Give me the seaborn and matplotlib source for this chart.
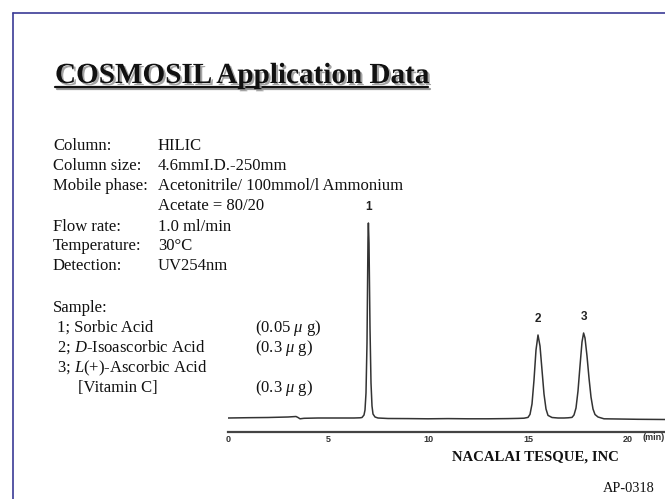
import numpy as np
import pandas as pd
import matplotlib
matplotlib.use("Agg")
import matplotlib.pyplot as plt
import matplotlib.patheffects as pe
from matplotlib.lines import Line2D
import seaborn as sns

# =========================
# DATA
# =========================

time_min = [0, 1, 2, 3, 3.4, 3.5, 3.6, 3.8, 4.5, 5.5, 6.3, 6.6,
            6.7, 6.8, 6.85, 6.9, 6.95, 7.0, 7.02, 7.05, 7.1, 7.15, 7.2, 7.25, 7.35, 7.5,
            8, 9, 10, 11, 12, 13, 14, 14.5, 14.8,
            15.0, 15.1, 15.2, 15.3, 15.4, 15.5, 15.6, 15.7, 15.8, 15.9, 16.0, 16.2,
            16.5, 16.8, 17.0, 17.2,
            17.3, 17.4, 17.5, 17.6, 17.7, 17.78, 17.85, 17.95, 18.05, 18.15, 18.25, 18.35, 18.5,
            18.8, 19.5, 20.5, 21.85]
signal = [0, 0.3, 0.5, 1, 1.5, 0.5, -0.8, -0.3, 0, 0, 0, 0.2,
          0.5, 3, 8, 25, 75, 180, 195, 175, 90, 35, 12, 4, 1, 0,
          -0.5, -0.6, -0.8, -0.6, -0.8, -0.8, -0.6, -0.4, -0.2,
          0.6, 3.6, 14, 38, 68, 83, 72, 48, 24, 9, 2.6, 0.5,
          0, 0, 0.2, 0.6,
          3, 10, 27, 52, 76, 85, 80, 62, 40, 21, 9, 3.5, 1,
          -0.8, -1, -1.3, -1.5]

peak_labels = ["1", "2", "3"]
peak_times = [7.02, 15.5, 17.78]
peak_heights = [195, 83, 85]

x_ticks = [0, 5, 10, 15, 20]

info_keys = ["Column:", "Column size:", "Mobile phase:", "", "Flow rate:", "Temperature:", "Detection:"]
info_vals = ["HILIC", "4.6mmI.D.-250mm", "Acetonitrile/ 100mmol/l Ammonium", "Acetate = 80/20",
             "1.0 ml/min", "30\u00b0C", "UV254nm"]

sample_lines = ["1; Sorbic Acid", r"2; $\it{D}$-Isoascorbic Acid", r"3; $\it{L}$(+)-Ascorbic Acid", "[Vitamin C]"]
sample_amounts = [r"(0.05 $\mu$ g)", r"(0.3 $\mu$ g)", "", r"(0.3 $\mu$ g)"]

df = pd.DataFrame({"time": time_min, "signal": signal})

# =========================
# STYLE
# =========================

sns.set_style("white")
plt.rcParams["font.family"] = ["Liberation Serif", "DejaVu Serif"]
plt.rcParams["mathtext.fontset"] = "custom"
plt.rcParams["mathtext.rm"] = "Liberation Serif"
plt.rcParams["mathtext.it"] = "Liberation Serif:italic"
plt.rcParams["mathtext.bf"] = "Liberation Serif:bold"

W, H = 665, 499
fig = plt.figure(figsize=(W / 100, H / 100), dpi=100)


def fx(px):
    return px / W


def fy(py):
    return 1 - py / H


# slide border
border = "#3b3b96"
fig.add_artist(Line2D([fx(12.5), fx(12.5)], [fy(13), 0], color=border, lw=1.2))
fig.add_artist(Line2D([fx(12.5), 1], [fy(13), fy(13)], color=border, lw=1.2))

# =========================
# TITLE
# =========================

title = fig.text(fx(55), fy(83), "COSMOSIL Application Data", fontsize=21,
                 fontweight="bold", color="#111111", va="baseline",
                 path_effects=[pe.SimplePatchShadow(offset=(1.5, -1.5), shadow_rgbFace="#9a9a9a", alpha=0.9),
                               pe.Normal()])
fig.canvas.draw()
bb = title.get_window_extent()
fig.add_artist(Line2D([fx(bb.x0 + 1.5), fx(bb.x1 + 1.5)], [fy(88.5), fy(88.5)], color="#9a9a9a", lw=1.6))
fig.add_artist(Line2D([fx(bb.x0), fx(bb.x1)], [fy(87), fy(87)], color="#111111", lw=1.6))

# =========================
# CONDITIONS TEXT
# =========================

row_y = [150.5, 170.5, 190.5, 210.5, 230.5, 250.5, 270.5]
for key, val, y in zip(info_keys, info_vals, row_y):
    fig.text(fx(53), fy(y), key, fontsize=12, va="baseline", color="#111111")
    fig.text(fx(158), fy(y), val, fontsize=12, va="baseline", color="#111111")

fig.text(fx(53), fy(312), "Sample:", fontsize=12, va="baseline", color="#111111")
sample_x = [57, 57, 57, 78]
sample_y = [332, 352, 372, 392]
for line, amt, x, y in zip(sample_lines, sample_amounts, sample_x, sample_y):
    fig.text(fx(x), fy(y), line, fontsize=12, va="baseline", color="#111111")
    if amt:
        fig.text(fx(255), fy(y), amt, fontsize=12, va="baseline", color="#111111")

# =========================
# CHROMATOGRAM
# =========================

ax_left, ax_bottom, ax_top = 228, 432, 200
ax = fig.add_axes([fx(ax_left), fy(ax_bottom), 1 - fx(ax_left), (ax_bottom - ax_top) / H])
ax.patch.set_alpha(0)

sns.lineplot(data=df, x="time", y="signal", ax=ax, color="#333333", linewidth=1.1)

ax.set_xlim(0, (W - ax_left) / 20)
ax.set_ylim(-14, (ax_bottom - ax_top) - 14)

for lab, t, h in zip(peak_labels, peak_times, peak_heights):
    ax.text(t, h + 16, lab, ha="center", va="center", fontsize=8.5, fontweight="bold",
            family="Liberation Sans", color="#222222")

ax.set_xticks(x_ticks)
ax.set_xticklabels([str(t) for t in x_ticks], fontsize=6.5, fontweight="bold",
                   family="Liberation Sans", color="#333333")
ax.set_yticks([])
ax.tick_params(axis="x", direction="in", length=5, width=1.3, color="#333333", pad=2)
for s in ["top", "right", "left"]:
    ax.spines[s].set_visible(False)
ax.spines["bottom"].set_color("#444444")
ax.spines["bottom"].set_linewidth(1.6)
ax.set_xlabel("")
ax.set_ylabel("")

ax.text(21.3, -20, "(min)", fontsize=6.5, fontweight="bold", family="Liberation Sans",
        color="#333333", ha="center", va="center")

# =========================
# FOOTER
# =========================

fig.text(fx(535), fy(457), "NACALAI TESQUE, INC", fontsize=10.6, fontweight="bold",
         ha="center", va="center", color="#111111")
fig.text(fx(655), fy(492), "AP-0318", fontsize=10.4, ha="right", va="baseline", color="#111111")

plt.savefig("out.png", dpi=100)
